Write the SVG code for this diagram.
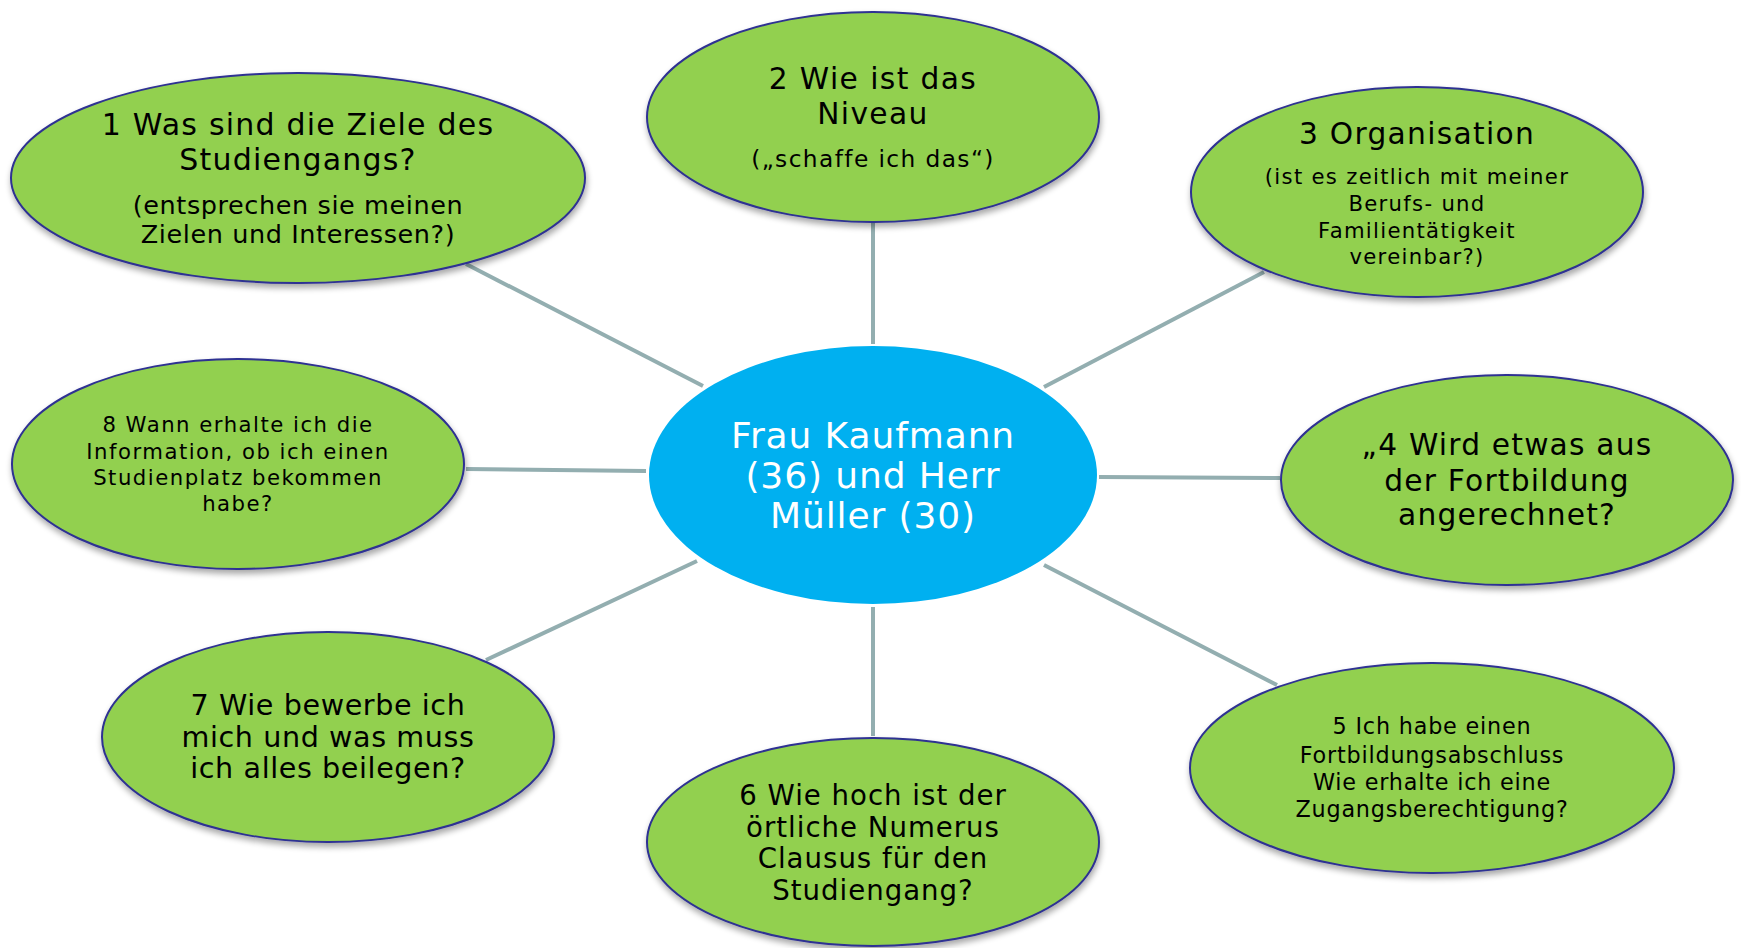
<svg xmlns="http://www.w3.org/2000/svg" width="1741" height="948" viewBox="0 0 1741 948">
<defs>
<filter id="sh" x="-10%" y="-10%" width="120%" height="130%">
<feGaussianBlur in="SourceAlpha" stdDeviation="3"/>
<feOffset dx="1" dy="4" result="b"/>
<feComponentTransfer><feFuncA type="linear" slope="0.35"/></feComponentTransfer>
<feMerge><feMergeNode/><feMergeNode in="SourceGraphic"/></feMerge>
</filter>
<style>
.q{fill:#92D050;stroke:#2E3192;stroke-width:2;filter:url(#sh)}
.c{fill:#00B0F0}
.t{font-family:"DejaVu Sans","Liberation Sans",sans-serif;fill:#000;text-anchor:middle}
.w{font-family:"DejaVu Sans","Liberation Sans",sans-serif;fill:#fff;text-anchor:middle;font-size:36px;letter-spacing:0.9px}
.ln{stroke:#93AEB0;stroke-width:4;fill:none}
</style>
</defs>
<rect width="1741" height="948" fill="#fff"/>
<g id="connectors">
<line class="ln" x1="466" y1="264" x2="703" y2="386"/>
<line class="ln" x1="873" y1="222" x2="873" y2="344"/>
<line class="ln" x1="1264" y1="272" x2="1044" y2="387"/>
<line class="ln" x1="1099" y1="477" x2="1280" y2="478"/>
<line class="ln" x1="1044" y1="565" x2="1277" y2="685"/>
<line class="ln" x1="873" y1="607" x2="873" y2="736"/>
<line class="ln" x1="697" y1="561" x2="486" y2="660"/>
<line class="ln" x1="466" y1="469" x2="646" y2="471"/>
</g>
<g id="center">
<ellipse class="c" cx="873" cy="475" rx="224" ry="129"/>
<text class="w" x="873" y="448">Frau Kaufmann</text>
<text class="w" x="873" y="488">(36) und Herr</text>
<text class="w" x="873" y="528">Müller (30)</text>
</g>
<g id="n1">
<ellipse class="q" cx="298" cy="178" rx="287" ry="105"/>
<g class="t" font-size="30" letter-spacing="1.2">
<text x="298" y="135">1 Was sind die Ziele des</text>
<text x="298" y="170">Studiengangs?</text>
</g>
<g class="t" font-size="25.5" letter-spacing="0.6">
<text x="298" y="214">(entsprechen sie meinen</text>
<text x="298" y="243">Zielen und Interessen?)</text>
</g>
</g>
<g id="n2">
<ellipse class="q" cx="873" cy="117" rx="226" ry="105"/>
<g class="t" font-size="29.7" letter-spacing="1.4">
<text x="873" y="89">2 Wie ist das</text>
<text x="873" y="124">Niveau</text>
</g>
<text class="t" font-size="23.3" letter-spacing="1.4" x="873" y="167">(„schaffe ich das“)</text>
</g>
<g id="n3">
<ellipse class="q" cx="1417" cy="192" rx="226" ry="105"/>
<text class="t" font-size="29.7" letter-spacing="1.3" x="1417" y="144">3 Organisation</text>
<g class="t" font-size="21.2" letter-spacing="1.3">
<text x="1417" y="184">(ist es zeitlich mit meiner</text>
<text x="1417" y="211">Berufs- und</text>
<text x="1417" y="238">Familientätigkeit</text>
<text x="1417" y="264">vereinbar?)</text>
</g>
</g>
<g id="n4">
<ellipse class="q" cx="1507" cy="480" rx="226" ry="105"/>
<g class="t" font-size="29.7" letter-spacing="1.2">
<text x="1507" y="455">„4 Wird etwas aus</text>
<text x="1507" y="491">der Fortbildung</text>
<text x="1507" y="525">angerechnet?</text>
</g>
</g>
<g id="n5">
<ellipse class="q" cx="1432" cy="768" rx="242" ry="105"/>
<g class="t" font-size="22.3" letter-spacing="0.8">
<text x="1432" y="734">5 Ich habe einen</text>
<text x="1432" y="763">Fortbildungsabschluss</text>
<text x="1432" y="790">Wie erhalte ich eine</text>
<text x="1432" y="817">Zugangsberechtigung?</text>
</g>
</g>
<g id="n6">
<ellipse class="q" cx="873" cy="842" rx="226" ry="104"/>
<g class="t" font-size="27.6" letter-spacing="1">
<text x="873" y="805">6 Wie hoch ist der</text>
<text x="873" y="837">örtliche Numerus</text>
<text x="873" y="868">Clausus für den</text>
<text x="873" y="900">Studiengang?</text>
</g>
</g>
<g id="n7">
<ellipse class="q" cx="328" cy="737" rx="226" ry="105"/>
<g class="t" font-size="28.6" letter-spacing="0.6">
<text x="328" y="715">7 Wie bewerbe ich</text>
<text x="328" y="747">mich und was muss</text>
<text x="328" y="778">ich alles beilegen?</text>
</g>
</g>
<g id="n8">
<ellipse class="q" cx="238" cy="464" rx="226" ry="105"/>
<g class="t" font-size="21.2" letter-spacing="1.5">
<text x="238" y="432">8 Wann erhalte ich die</text>
<text x="238" y="459">Information, ob ich einen</text>
<text x="238" y="485">Studienplatz bekommen</text>
<text x="238" y="511">habe?</text>
</g>
</g>
</svg>
